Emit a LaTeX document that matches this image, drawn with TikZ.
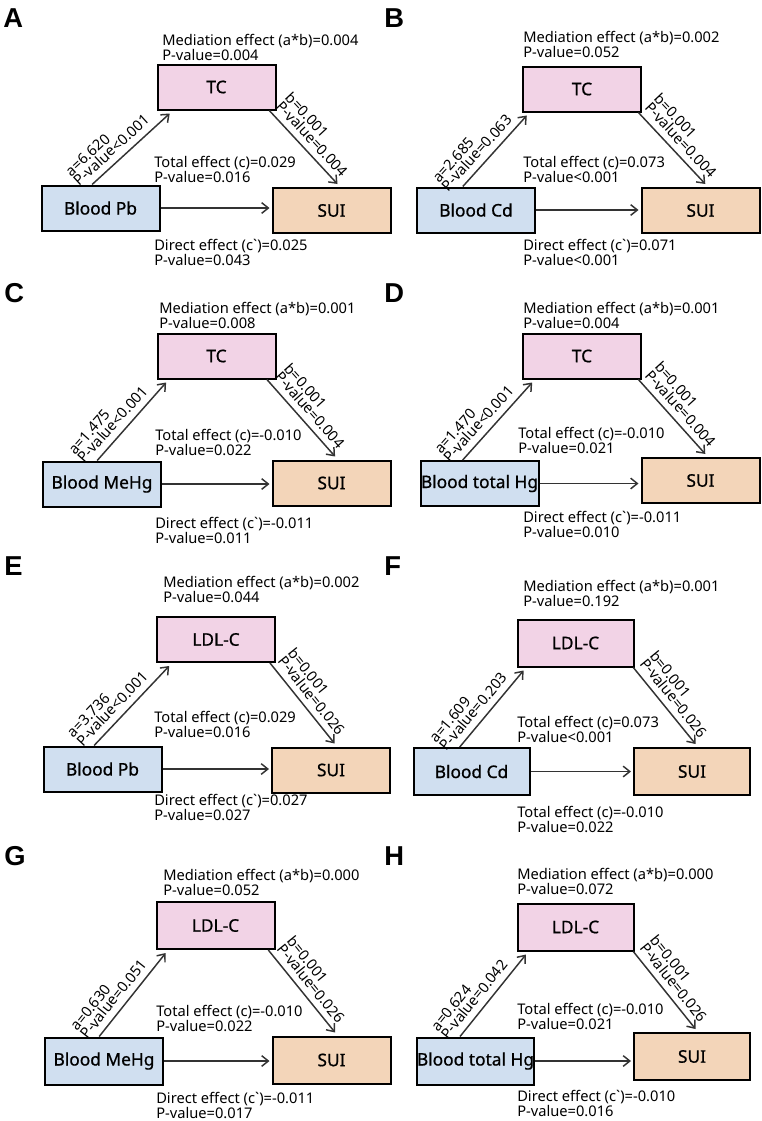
\documentclass[tikz,border=0pt]{standalone}
\usepackage{fontspec}
\setmainfont{Noto Sans}
\newfontfamily\boxfont{Noto Sans}[FakeBold=0.8]
\newfontfamily\tagfont{Liberation Sans Bold}
\usetikzlibrary{arrows.meta,calc}
\definecolor{tcpink}{HTML}{F2D3E6}
\definecolor{expblue}{HTML}{D0DFF0}
\definecolor{suipeach}{HTML}{F3D5B9}
\definecolor{ink}{HTML}{333333}
\begin{document}
\begin{tikzpicture}[x=0.75pt,y=-0.75pt,
  box/.style={draw=black, line width=1.5pt, minimum width=88.5pt, minimum height=33.75pt,
    inner sep=0pt, font=\boxfont\fontsize{13}{15}\selectfont},
  medbox/.style={box, fill=tcpink},
  expbox/.style={box, fill=expblue},
  outbox/.style={box, fill=suipeach},
  link/.style={draw=ink, line width=1.1pt, -{Straight Barb[length=5pt,width=8pt,line width=1.1pt]}},
  note/.style={anchor=north west, inner sep=0pt, align=left, font=\fontsize{11}{9.4}\selectfont},
  coef/.style={sloped, above=4.5pt, inner sep=0pt, align=left, font=\fontsize{11}{9.4}\selectfont},
  tag/.style={anchor=north west, inner sep=0pt, font=\tagfont\fontsize{20.5}{20.5}\selectfont}
]
\fill[white] (0,0) rectangle (761,1121);
\useasboundingbox (0,0) rectangle (761,1121);

% ---------- Panel A ----------
\node[tag] (Atag) at (3,8) {A};
\node[medbox] (Atc) at (216.5,87) {TC};
\node[expbox] (Abl) at (100.5,208) {Blood Pb};
\node[outbox] (Asui) at (331.5,210.5) {SUI};
\node[note] (Amed) at (162,34) {Mediation effect (a*b)=0.004\\P-value=0.004};
\node[note] (Atot) at (154,156) {Total effect (c)=0.029\\P-value=0.016};
\node[note] (Adir) at (154,239) {Direct effect (c\textasciigrave)=0.025\\P-value=0.043};
\draw[link] ($(Abl.north west)!0.43!(Abl.north east)$) -- node[coef,pos=0.36]{a=6.620\\P-value<0.001} ($(Atc.south west)!0.11!(Atc.south east)+(0,3)$);
\draw[link] ($(Atc.south west)!0.94!(Atc.south east)$) -- node[coef,pos=0.5]{b=0.001\\P-value=0.004} ($(Asui.north west)!0.55!(Asui.north east)+(0,-3)$);
\draw[link] (Abl.east) -- ($(Abl.east -| Asui.west)+(-2,0)$);

% ---------- Panel B ----------
\node[tag] (Btag) at (384,8) {B};
\node[medbox] (Btc) at (582,89) {TC};
\node[expbox] (Bbl) at (476,210) {Blood Cd};
\node[outbox] (Bsui) at (700.5,210.5) {SUI};
\node[note] (Bmed) at (523,31) {Mediation effect (a*b)=0.002\\P-value=0.052};
\node[note] (Btot) at (523,156) {Total effect (c)=0.073\\P-value<0.001};
\node[note] (Bdir) at (523,239) {Direct effect (c\textasciigrave)=0.071\\P-value<0.001};
\draw[link] ($(Bbl.north west)!0.39!(Bbl.north east)$) -- node[coef,pos=0.36]{a=2.685\\P-value=0.063} ($(Btc.south west)!0.04!(Btc.south east)+(0,3)$);
\draw[link] ($(Btc.south west)!0.97!(Btc.south east)$) -- node[coef,pos=0.5]{b=0.001\\P-value=0.004} ($(Bsui.north west)!0.54!(Bsui.north east)+(0,-3)$);
\draw[link] (Bbl.east) -- ($(Bbl.east -| Bsui.west)+(-2,0)$);

% ---------- Panel C ----------
\node[tag] (Ctag) at (4,283) {C};
\node[medbox] (Ctc) at (216.5,356) {TC};
\node[expbox] (Cbl) at (102,484) {Blood MeHg};
\node[outbox] (Csui) at (331.5,483) {SUI};
\node[note] (Cmed) at (159,302) {Mediation effect (a*b)=0.001\\P-value=0.008};
\node[note] (Ctot) at (155,429) {Total effect (c)=-0.010\\P-value=0.022};
\node[note] (Cdir) at (155,517) {Direct effect (c\textasciigrave)=-0.011\\P-value=0.011};
\draw[link] ($(Cbl.north west)!0.46!(Cbl.north east)$) -- node[coef,pos=0.36]{a=1.475\\P-value<0.001} ($(Ctc.south west)!0.08!(Ctc.south east)+(0,3)$);
\draw[link] ($(Ctc.south west)!0.92!(Ctc.south east)$) -- node[coef,pos=0.5]{b=0.001\\P-value=0.004} ($(Csui.north west)!0.53!(Csui.north east)+(0,-3)$);
\draw[link] (Cbl.east) -- ($(Cbl.east -| Csui.west)+(-2,0)$);

% ---------- Panel D ----------
\node[tag] (Dtag) at (384,283) {D};
\node[medbox] (Dtc) at (582,356) {TC};
\node[expbox] (Dbl) at (479.5,483.5) {Blood total Hg};
\node[outbox] (Dsui) at (700.5,480.5) {SUI};
\node[note] (Dmed) at (523,302) {Mediation effect (a*b)=0.001\\P-value=0.004};
\node[note] (Dtot) at (518,427) {Total effect (c)=-0.010\\P-value=0.021};
\node[note] (Ddir) at (523,511) {Direct effect (c\textasciigrave)=-0.011\\P-value=0.010};
\draw[link] ($(Dbl.north west)!0.36!(Dbl.north east)$) -- node[coef,pos=0.36]{a=1.470\\P-value<0.001} ($(Dtc.south west)!0.085!(Dtc.south east)+(0,3)$);
\draw[link] ($(Dtc.south west)!0.97!(Dtc.south east)$) -- node[coef,pos=0.5]{b=0.001\\P-value=0.004} ($(Dsui.north west)!0.54!(Dsui.north east)+(0,-3)$);
\draw[link] (Dbl.east) -- ($(Dbl.east -| Dsui.west)+(-2,0)$);

% ---------- Panel E ----------
\node[tag] (Etag) at (4,556) {E};
\node[medbox] (Eldl) at (216,639.5) {LDL-C};
\node[expbox] (Ebl) at (102.5,769) {Blood Pb};
\node[outbox] (Esui) at (331,770) {SUI};
\node[note] (Emed) at (163,576) {Mediation effect (a*b)=0.002\\P-value=0.044};
\node[note] (Etot) at (154,711) {Total effect (c)=0.029\\P-value=0.016};
\node[note] (Edir) at (154,794) {Direct effect (c\textasciigrave)=0.027\\P-value=0.027};
\draw[link] ($(Ebl.north west)!0.43!(Ebl.north east)$) -- node[coef,pos=0.36]{a=3.736\\P-value<0.001} ($(Eldl.south west)!0.11!(Eldl.south east)+(0,3)$);
\draw[link] ($(Eldl.south west)!0.95!(Eldl.south east)$) -- node[coef,pos=0.5]{b=0.001\\P-value=0.026} ($(Esui.north west)!0.53!(Esui.north east)+(0,-3)$);
\draw[link] (Ebl.east) -- ($(Ebl.east -| Esui.west)+(-2,0)$);

% ---------- Panel F ----------
\node[tag] (Ftag) at (384,556) {F};
\node[medbox, minimum width=87pt, minimum height=35.25pt] (Fldl) at (575.5,643) {LDL-C};
\node[expbox, minimum width=87pt, minimum height=35.25pt] (Fbl) at (471.5,771.5) {Blood Cd};
\node[outbox, minimum width=87pt, minimum height=35.25pt] (Fsui) at (692,771.5) {SUI};
\node[note] (Fmed) at (523,580) {Mediation effect (a*b)=0.001\\P-value=0.192};
\node[note] (Ftot) at (517,716) {Total effect (c)=0.073\\P-value<0.001};
\node[note] (Flow) at (517,806) {Total effect (c)=-0.010\\P-value=0.022};
\draw[link] ($(Fbl.north west)!0.40!(Fbl.north east)$) -- node[coef,pos=0.36]{a=1.609\\P-value=0.203} ($(Fldl.south west)!0.06!(Fldl.south east)+(0,3)$);
\draw[link] ($(Fldl.south west)!0.99!(Fldl.south east)$) -- node[coef,pos=0.5]{b=0.001\\P-value=0.026} ($(Fsui.north west)!0.53!(Fsui.north east)+(0,-3)$);
\draw[link] (Fbl.east) -- ($(Fbl.east -| Fsui.west)+(-2,0)$);

% ---------- Panel G ----------
\node[tag] (Gtag) at (4,846) {G};
\node[medbox, minimum height=35.25pt] (Gldl) at (215.5,925.5) {LDL-C};
\node[expbox, minimum height=35.25pt] (Gbl) at (104,1061) {Blood MeHg};
\node[outbox, minimum height=35.25pt] (Gsui) at (331.5,1060) {SUI};
\node[note] (Gmed) at (163,869) {Mediation effect (a*b)=0.000\\P-value=0.052};
\node[note] (Gtot) at (156,1005) {Total effect (c)=-0.010\\P-value=0.022};
\node[note] (Gdir) at (156,1092) {Direct effect (c\textasciigrave)=-0.011\\P-value=0.017};
\draw[link] ($(Gbl.north west)!0.46!(Gbl.north east)$) -- node[coef,pos=0.36]{a=0.630\\P-value=0.051} ($(Gldl.south west)!0.085!(Gldl.south east)+(0,3)$);
\draw[link] ($(Gldl.south west)!0.94!(Gldl.south east)$) -- node[coef,pos=0.5]{b=0.001\\P-value=0.026} ($(Gsui.north west)!0.53!(Gsui.north east)+(0,-3)$);
\draw[link] (Gbl.east) -- ($(Gbl.east -| Gsui.west)+(-2,0)$);

% ---------- Panel H ----------
\node[tag] (Htag) at (384,846) {H};
\node[medbox, minimum width=87pt, minimum height=35.25pt] (Hldl) at (575.5,927) {LDL-C};
\node[expbox, minimum width=87pt, minimum height=35.25pt] (Hbl) at (475.5,1061) {Blood total Hg};
\node[outbox, minimum width=87pt, minimum height=35.25pt] (Hsui) at (692,1056.5) {SUI};
\node[note] (Hmed) at (517,868) {Mediation effect (a*b)=0.000\\P-value=0.072};
\node[note] (Htot) at (517,1003) {Total effect (c)=-0.010\\P-value=0.021};
\node[note] (Hdir) at (517,1090) {Direct effect (c\textasciigrave)=-0.010\\P-value=0.016};
\draw[link] ($(Hbl.north west)!0.37!(Hbl.north east)$) -- node[coef,pos=0.36]{a=0.624\\P-value=0.042} ($(Hldl.south west)!0.08!(Hldl.south east)+(0,3)$);
\draw[link] ($(Hldl.south west)!0.99!(Hldl.south east)$) -- node[coef,pos=0.5]{b=0.001\\P-value=0.026} ($(Hsui.north west)!0.53!(Hsui.north east)+(0,-3)$);
\draw[link] (Hbl.east) -- ($(Hbl.east -| Hsui.west)+(-2,0)$);
\end{tikzpicture}
\end{document}
